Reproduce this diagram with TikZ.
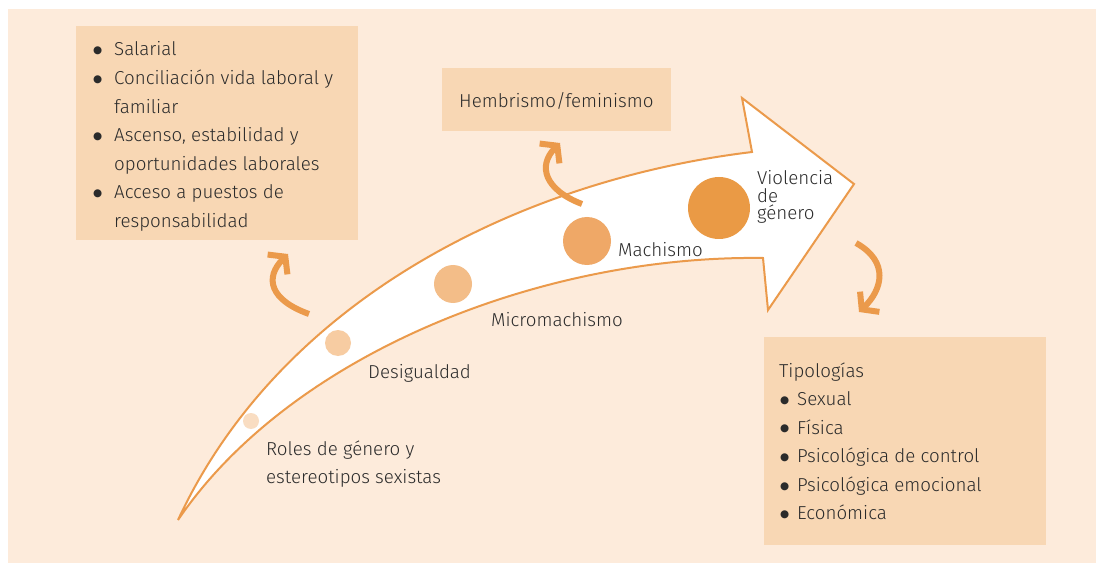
\documentclass[tikz,border=0pt]{standalone}
\usepackage{fontspec}
\setmainfont{Fira Sans Light}
\newfontfamily\symf{DejaVu Sans}
\usetikzlibrary{arrows.meta}
\definecolor{bgc}{HTML}{FDEBDB}
\definecolor{boxc}{HTML}{F8D7B4}
\definecolor{linec}{HTML}{EB9A4B}
\definecolor{txtc}{HTML}{2B2B2B}
\definecolor{dota}{HTML}{F9DDC2}
\definecolor{dotb}{HTML}{F7CCA2}
\definecolor{dotc}{HTML}{F3BD88}
\definecolor{dotd}{HTML}{EFA867}
\definecolor{dote}{HTML}{EA9A45}
\newcommand{\bigbul}{{\symf\fontsize{10.5}{10.5}\selectfont\raisebox{2.2bp}{●}}}
\newcommand{\bitem}[2]{\makebox[#1][l]{\bigbul}#2}
\newcommand{\bcont}[2]{\hspace*{#1}#2}
\newcommand{\txt}{\fontsize{18.8}{28.7}\selectfont}
\begin{document}
\begin{tikzpicture}[x=1bp,y=-1bp,
  box/.style={fill=boxc, draw=none, inner sep=0, anchor=north west},
  lbl/.style={anchor=base west, inner sep=0, text=txtc, font=\txt},
  dot/.style={circle, inner sep=0, draw=none},
  bigarrow/.style={draw=linec, line width=2bp, fill=white, line join=miter},
  curl/.style={draw=linec, line width=6bp, -{Straight Barb[length=11bp,width=28bp]}}]
\useasboundingbox (0,0) rectangle (1096,563);
\fill[bgc] (8,9) rectangle (1096,563);
% boxes
\node[box, minimum width=282bp, minimum height=214bp] (b1) at (76,26) {};
\node[box, minimum width=229bp, minimum height=63bp] (b2) at (442,68) {};
\node[box, minimum width=282bp, minimum height=208bp] (b3) at (764,337) {};
\node[lbl] (t1) at (93,56) {\parbox[t]{270bp}{\raggedright
  \bitem{21bp}{Salarial}\\
  \bitem{21bp}{Conciliación vida laboral y}\\
  \bcont{21bp}{familiar}\\
  \bitem{21bp}{Ascenso, estabilidad y}\\
  \bcont{21bp}{oportunidades laborales}\\
  \bitem{21bp}{Acceso a puestos de}\\
  \bcont{21bp}{responsabilidad}}};
\node[lbl] (t2) at (459,108) {Hembrismo/feminismo};
\node[lbl] (t3) at (779,377) {\parbox[t]{260bp}{\raggedright
  Tipologías\\
  \hspace*{1bp}\bitem{17bp}{Sexual}\\
  \hspace*{1bp}\bitem{17bp}{Física}\\
  \hspace*{1bp}\bitem{17bp}{Psicológica de control}\\
  \hspace*{1bp}\bitem{17bp}{Psicológica emocional}\\
  \hspace*{1bp}\bitem{17bp}{Económica}}};
% big arrow
\path[bigarrow] (178,520) .. controls (280,300) and (520,180) .. (752,152)
  -- (742,98) -- (854,184) -- (768,310) -- (763,258)
  .. controls (540,255) and (290,355) .. cycle;
% dots
\node[dot, fill=dota, minimum size=16bp] (d1) at (251,421) {};
\node[dot, fill=dotb, minimum size=26bp] (d2) at (338,343) {};
\node[dot, fill=dotc, minimum size=38bp] (d3) at (453,284) {};
\node[dot, fill=dotd, minimum size=48bp] (d4) at (587,241) {};
\node[dot, fill=dote, minimum size=62bp] (d5) at (719,208) {};
% labels
\node[lbl] (l1) at (266,455) {\parbox[t]{200bp}{\raggedright Roles de género y\\ estereotipos sexistas}};
\node[lbl] (l2) at (368,378) {Desigualdad};
\node[lbl] (l3) at (491,327) {Micromachismo};
\node[lbl] (l4) at (618,257) {Machismo};
\node[lbl] (l5) at (757,185) {\parbox[t]{100bp}{\fontsize{18.8}{17.5}\selectfont\raggedright Violencia\\ de\\ género}};
% curled arrows
\coordinate (a1s) at (309,314);
\coordinate (a1e) at (288,254);
\coordinate (a2s) at (582,204);
\coordinate (a2e) at (560,143);
\coordinate (a3s) at (856,243);
\coordinate (a3e) at (859,312);
\draw[curl] (a1s) .. controls (270,300) and (264,278) .. (a1e);
\draw[curl] (a2s) .. controls (545,190) and (537,166) .. (a2e);
\draw[curl] (a3s) .. controls (890,262) and (882,290) .. (a3e);
\end{tikzpicture}
\end{document}
